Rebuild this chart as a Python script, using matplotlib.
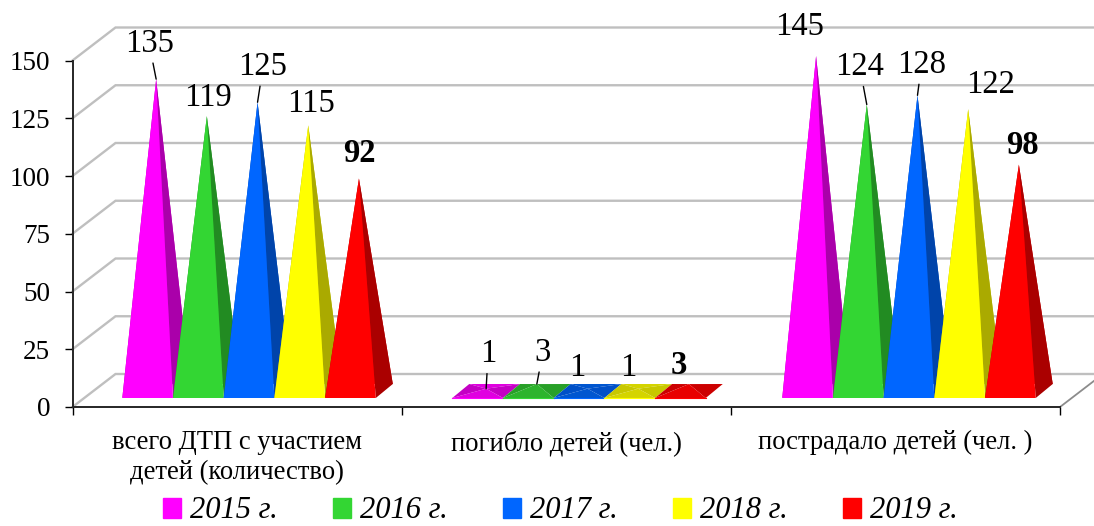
# 3D look pyramid chart - road accidents with children, 2015-2019
import matplotlib
matplotlib.use("Agg")
import matplotlib.pyplot as plt
from matplotlib.patches import Patch

plt.rcParams['font.family'] = ['Liberation Serif', 'DejaVu Serif']

# data
categories = ["всего ДТП с участием\nдетей (количество)", "погибло детей (чел.)", "пострадало детей (чел. )"]
years = ["2015 г.", "2016 г.", "2017 г.", "2018 г.", "2019 г."]
v2015 = [135, 1, 145]
v2016 = [119, 3, 124]
v2017 = [125, 1, 128]
v2018 = [115, 1, 122]
v2019 = [92, 3, 98]
series = [v2015, v2016, v2017, v2018, v2019]
yticks = [0, 25, 50, 75, 100, 125, 150]

# colours
front_cols = ['#FF00FF', '#33D633', '#0066FF', '#FFFF00', '#FF0000']
side_cols = ['#AA00AA', '#228B22', '#0044AA', '#AAAA00', '#AA0000']
rear_cols = ['#C400C4', '#28A028', '#0050C8', '#C8C800', '#CC0000']
flat_cols = ['#E000E0', '#2DB42D', '#0056D0', '#D4D400', '#E80000']

# label offsets from the apex in pixels (dx, dy up), leader yes/no
offsets = [
    [(-7, 35.5, True), (1.5, 18.5, False), (5.5, 35.5, True), (3, 21.5, False), (0, 25, False)],
    [(2, 34.5, True), (6, 31.5, True), (-10, 20.5, False), (-10, 20.5, False), (-10, 18.5, False)],
    [(-17, 29.5, False), (-7, 37.5, True), (4, 30.5, True), (22, 24.5, False), (4, 19.5, False)],
]

W, H = 1094, 526
fig = plt.figure(figsize=(W / 100, H / 100), dpi=100)
ax = fig.add_axes([72.5 / W, (H - 407) / H, (1060 - 72.5) / W, (407 - 60.5) / H])
ax.set_xlim(0, 3)
ax.set_ylim(0, 150)

# pixel sizes in data units
px_x = 3 / (1060 - 72.5)
px_y = 150 / (407 - 60.5)
wall_x, wall_y = 43 * px_x, 33 * px_y
bar_w = 50.7 * px_x
depth_x, depth_y = 17 * px_x, 14 * px_y
base_y = 9 * px_y
start = 49.8 * px_x  # first pyramid, from the group's left edge
group_gap = 1 + 0.8 * px_x
grey = '#BFBFBF'

# walls and floor
for v in yticks:
    ax.plot([0, wall_x, 3 + wall_x], [v, v + wall_y, v + wall_y], color=grey, lw=1.7,
            clip_on=False, zorder=1, solid_joinstyle='miter')
ax.plot([3, 3 + wall_x], [0, wall_y], color='#8C8C8C', lw=1.3, clip_on=False, zorder=1)
ax.plot([0, 3], [0, 0], color='#808080', lw=1, zorder=1)

# pyramids, left to right so each one covers the side of the one before
for g in range(3):
    for s, vals in enumerate(series):
        x0 = g * group_gap + start + s * bar_w
        x1 = x0 + bar_w
        top_x = x0 + bar_w / 2 + depth_x / 2
        top_y = vals[g] + base_y + depth_y / 2
        fl, fr = (x0, base_y), (x1, base_y)
        bl, br = (x0 + depth_x, base_y + depth_y), (x1 + depth_x, base_y + depth_y)
        top = (top_x, top_y)
        z = 3 + g * 10 + s
        flat = vals[g] < 10  # nearly flat pyramids catch less light on the front
        ax.fill(*zip(bl, br, top), color=flat_cols[s] if flat else rear_cols[s], lw=0, clip_on=False, zorder=z)
        ax.fill(*zip(fl, bl, top), color=rear_cols[s] if flat else side_cols[s], lw=0, clip_on=False, zorder=z)
        ax.fill(*zip(fr, br, top), color=rear_cols[s] if flat else side_cols[s], lw=0, clip_on=False, zorder=z)
        ax.fill(*zip(fl, fr, top), color=flat_cols[s] if flat else front_cols[s], lw=0, clip_on=False, zorder=z)
        if flat:
            ax.plot(*zip(fl, fr), color=front_cols[s], lw=0.8, clip_on=False, zorder=z)

        dx, dy, leader = offsets[g][s]
        arrow = dict(arrowstyle='-', lw=1, color='black', shrinkA=1, shrinkB=0) if leader else None
        ax.annotate(str(vals[g]), xy=top, xytext=(dx * 0.72, dy * 0.72), textcoords='offset points',
                    ha='center', va='center', fontsize=23.5,
                    fontweight='bold' if s == 4 else 'normal', arrowprops=arrow,
                    annotation_clip=False, zorder=60)

# axes
for side in ['top', 'right']:
    ax.spines[side].set_visible(False)
ax.patch.set_alpha(0)
ax.spines['left'].set_linewidth(1.4)
ax.spines['bottom'].set_linewidth(1.4)
ax.spines['left'].set_color('#262626')
ax.spines['bottom'].set_color('#262626')
ax.set_yticks(yticks)
ax.tick_params(axis='y', length=6, width=1, pad=10, labelsize=19.5)
ax.set_xticks([0, 1, 2, 3])
ax.set_xticklabels([])
ax.tick_params(axis='x', which='major', length=6, width=1)
ax.set_xticks([0.5, 1.5, 2.5], minor=True)
ax.set_xticklabels(categories, minor=True, fontsize=19.2, linespacing=1.27)
ax.tick_params(axis='x', which='minor', length=0, pad=16.5)

# legend
handles = [Patch(color=c, label=y) for c, y in zip(front_cols, years)]
fig.legend(handles=handles, ncol=5, loc='center', bbox_to_anchor=(560.5 / W, (H - 511) / H),
           frameon=False, prop={'style': 'italic', 'size': 22}, handlelength=0.59,
           handleheight=0.65, handletextpad=0.3, columnspacing=1.8, borderpad=0, borderaxespad=0)

fig.savefig('out.png', dpi=100)
